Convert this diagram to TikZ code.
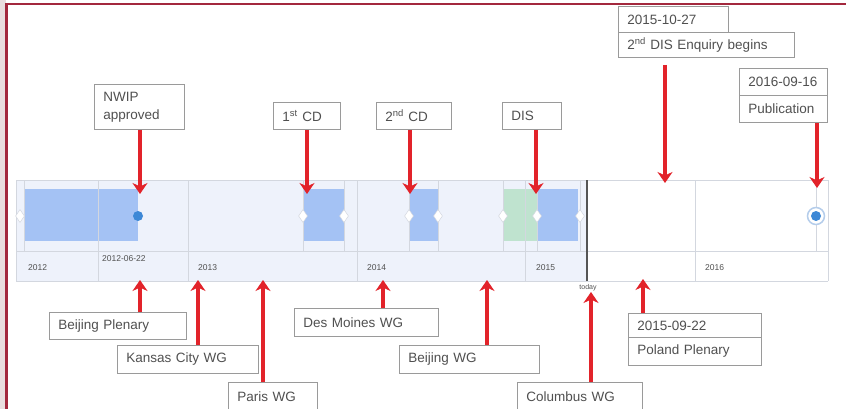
\documentclass[tikz,border=0pt]{standalone}
\usepackage{fontspec}
\setmainfont{Liberation Sans}
\usetikzlibrary{arrows.meta,shapes.geometric}
\definecolor{framered}{HTML}{A3283D}
\definecolor{sidepink}{HTML}{E9DDDE}
\definecolor{boxgray}{HTML}{9A9A9A}
\definecolor{txtgray}{HTML}{505050}
\definecolor{bandfill}{HTML}{EEF2FB}
\definecolor{gridgray}{HTML}{D3D7DF}
\definecolor{blockblue}{HTML}{A4C2F4}
\definecolor{blockgreen}{HTML}{BFE3CF}
\definecolor{dotblue}{HTML}{3D88D6}
\definecolor{ringblue}{HTML}{B5CDEB}
\definecolor{arrowred}{HTML}{E2232A}
\definecolor{todaygray}{HTML}{555555}
\begin{document}
\begin{tikzpicture}[x=1pt,y=-1pt,
  bx/.style={draw=boxgray, line width=0.9pt, fill=white, anchor=north west,
    inner xsep=9pt, inner ysep=0pt, align=left, text=txtgray,
    font=\fontsize{13.5}{18}\selectfont},
  axlabel/.style={anchor=west, inner sep=0pt, text=txtgray, font=\fontsize{8.5}{10}\selectfont},
  redarrow/.style={draw=arrowred, line width=3.2pt, -{Stealth[length=11pt,width=15pt,inset=3.5pt]}},
  grid/.style={draw=gridgray, line width=0.7pt},
  thin/.style={draw=gridgray, line width=0.5pt},
  dia/.style={diamond, draw=gridgray, fill=white, line width=0.5pt, inner sep=0pt,
    minimum width=9pt, minimum height=13pt}
]
\useasboundingbox (0,0) rectangle (846,409);
% background and frame
\fill[white] (0,0) rectangle (846,409);
\fill[sidepink] (0,0) rectangle (5.5,409);
\draw[framered, line width=2.2pt] (6.5,415) -- (6.5,4) -- (852,4);

% timeline band
\fill[bandfill] (16,180) rectangle (587,281);
\fill[white] (587,180) rectangle (828,281);
% blocks
\fill[blockblue] (25,189) rectangle (138,241);
\fill[blockblue] (303,189) rectangle (344,241);
\fill[blockblue] (409,189) rectangle (438,241);
\fill[blockgreen] (503,189) rectangle (537,241);
\fill[blockblue] (537,189) rectangle (578,241);
% thin ticks in upper section
\foreach \x in {24,303,344,409,438,503,537,580,816}
  \draw[thin] (\x,180) -- (\x,251);
% grid lines
\draw[grid] (16,180) -- (828,180);
\draw[grid] (16,251.5) -- (828,251.5);
\draw[grid] (16,281) -- (828,281);
\draw[grid] (16,180) -- (16,281);
\draw[grid] (828,180) -- (828,281);
\foreach \x in {98,188,357,525,695}
  \draw[grid] (\x,180) -- (\x,281);
\draw[todaygray, line width=1.4pt] (587,180) -- (587,281);
% diamonds
\foreach \x/\n in {20/d0,303/d1,344/d2,409/d3,438/d4,503/d5,537/d6,580/d7}
  \node[dia] (\n) at (\x,216) {};
% dots
\node[circle, fill=dotblue, inner sep=0pt, minimum size=10pt] (dotA) at (138,216) {};
\node[circle, draw=ringblue, line width=1.5pt, fill=white, inner sep=0pt, minimum size=17pt] (ringB) at (816,216) {};
\node[circle, fill=dotblue, inner sep=0pt, minimum size=10pt] (dotB) at (816,216) {};

% axis labels
\node[axlabel] (y2012) at (28,268) {2012};
\node[axlabel] (d0622) at (102,259) {2012-06-22};
\node[axlabel] (y2013) at (198,268) {2013};
\node[axlabel] (y2014) at (367,268) {2014};
\node[axlabel] (y2015) at (536,268) {2015};
\node[axlabel] (y2016) at (705,268) {2016};
\node[inner sep=0pt, text=txtgray, font=\fontsize{7}{8}\selectfont] (today) at (588,288) {today};

% top boxes
\node[bx, text width=72pt, minimum height=45pt] (nwip) at (94,84) {NWIP\\approved};
\node[bx, text width=49pt, minimum height=27pt] (cd1) at (273,102) {1\textsuperscript{st} CD};
\node[bx, text width=57pt, minimum height=27pt] (cd2) at (376,102) {2\textsuperscript{nd} CD};
\node[bx, text width=41pt, minimum height=27pt] (dis) at (502,102) {DIS};
\node[bx, text width=92pt, minimum height=26pt] (d1027) at (618,6) {2015-10-27};
\node[bx, text width=158pt, minimum height=25pt] (enq) at (618,32) {2\textsuperscript{nd} DIS Enquiry begins};
\node[bx, text width=70pt, minimum height=27pt] (d0916) at (739,68) {2016-09-16};
\node[bx, text width=70pt, minimum height=27pt] (pub) at (739,95) {Publication};

% bottom boxes
\node[bx, text width=119pt, minimum height=27pt] (bplen) at (49,312) {Beijing Plenary};
\node[bx, text width=123pt, minimum height=28pt] (kc) at (117,345) {Kansas City WG};
\node[bx, text width=71pt, minimum height=28pt] (paris) at (228,382) {Paris WG};
\node[bx, text width=126pt, minimum height=28pt] (dm) at (294,308) {Des Moines WG};
\node[bx, text width=122pt, minimum height=28pt] (bwg) at (399,345) {Beijing WG};
\node[bx, text width=107pt, minimum height=28pt] (col) at (517,382) {Columbus WG};
\node[bx, text width=115pt, minimum height=24pt] (d0922) at (628,313) {2015-09-22};
\node[bx, text width=115pt, minimum height=28pt] (pol) at (628,337) {Poland Plenary};

% arrow tips
\coordinate (tNwip) at (140,194);
\coordinate (tCd1) at (307,194);
\coordinate (tCd2) at (410,194);
\coordinate (tDis) at (536,194);
\coordinate (tEnq) at (665,183);
\coordinate (tPub) at (817,188);
\coordinate (tBplen) at (140,280);
\coordinate (tKc) at (198,280);
\coordinate (tParis) at (263,280);
\coordinate (tDm) at (383,280);
\coordinate (tBwg) at (487,280);
\coordinate (tCol) at (591,292);
\coordinate (tPol) at (643,279);

% arrows
\draw[redarrow] (nwip.south -| tNwip) -- (tNwip);
\draw[redarrow] (cd1.south -| tCd1) -- (tCd1);
\draw[redarrow] (cd2.south -| tCd2) -- (tCd2);
\draw[redarrow] (dis.south -| tDis) -- (tDis);
\draw[redarrow, shorten <=7pt] (enq.south -| tEnq) -- (tEnq);
\draw[redarrow] (pub.south -| tPub) -- (tPub);
\draw[redarrow] (bplen.north -| tBplen) -- (tBplen);
\draw[redarrow] (kc.north -| tKc) -- (tKc);
\draw[redarrow] (paris.north -| tParis) -- (tParis);
\draw[redarrow] (dm.north -| tDm) -- (tDm);
\draw[redarrow] (bwg.north -| tBwg) -- (tBwg);
\draw[redarrow] (col.north -| tCol) -- (tCol);
\draw[redarrow] (d0922.north -| tPol) -- (tPol);
\end{tikzpicture}
\end{document}
